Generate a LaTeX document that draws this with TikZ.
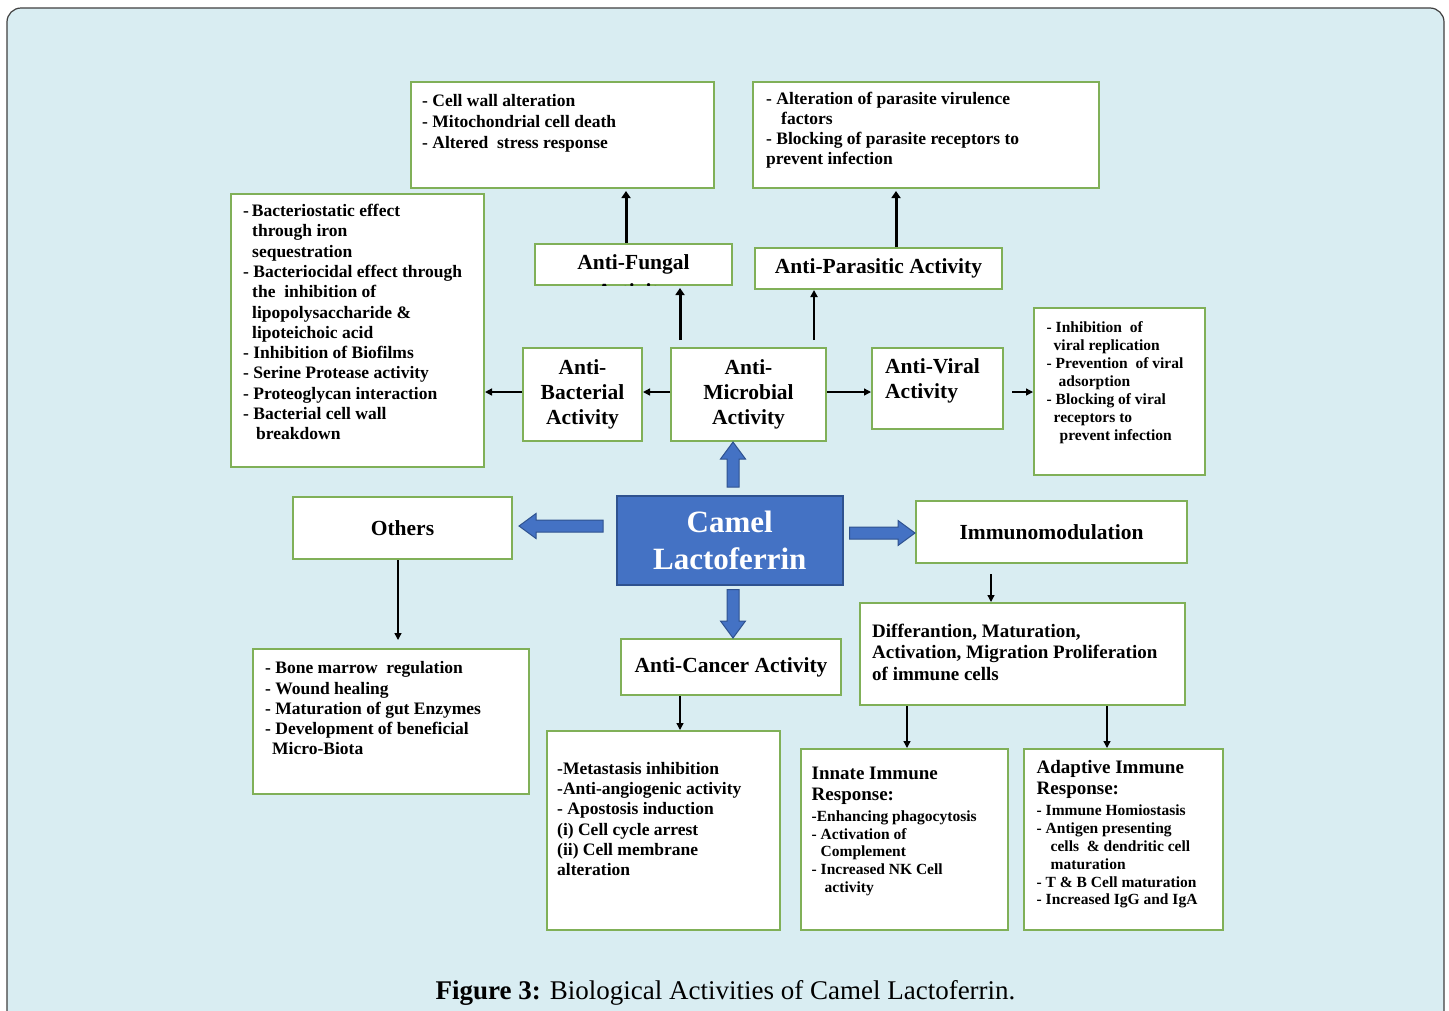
\documentclass[tikz,border=0pt]{standalone}
\usepackage{fontspec}
\setmainfont{Liberation Serif}
\usetikzlibrary{arrows.meta,calc}
\definecolor{bgblue}{RGB}{217,237,242}
\definecolor{bgreen}{RGB}{128,176,88}
\definecolor{lfblue}{RGB}{68,114,196}
\definecolor{lfedge}{RGB}{47,82,143}
\newcommand\fsz[2]{\fontsize{#1}{#2}\selectfont}
\newcommand\ind[1]{\hspace*{#1pt}}
\newcommand\blockarrow[2]{%
  \path ($(#2)!17pt!(#1)$) coordinate (hb);
  \filldraw[blockarr] ($(#1)!6pt!90:(#2)$) -- ($(hb)!6pt!-90:(#1)$) -- ($(hb)!12.5pt!-90:(#1)$) -- (#2)
    -- ($(hb)!12.5pt!90:(#1)$) -- ($(hb)!6pt!90:(#1)$) -- ($(#1)!6pt!-90:(#2)$) -- cycle;}
\tikzset{
  wbox/.style={draw=bgreen, fill=white, line width=2pt, anchor=north west, inner sep=2pt, align=center},
  desctext/.style={anchor=north west, inner sep=0pt, align=left, font=\bfseries\fsz{17.5}{20.3}},
  smalltext/.style={anchor=north west, inner sep=0pt, align=left, font=\bfseries\fsz{15.5}{17.8}},
  ttl/.style={font=\bfseries\fsz{21.5}{25}},
  conn/.style={line width=1.4pt, -{Triangle[length=7pt,width=7pt]}},
  thickconn/.style={line width=3pt, -{Triangle[length=7pt,width=9pt]}},
  blockarr/.style={fill=lfblue, draw=lfedge, line width=1pt, line join=miter},
}
\begin{document}
\begin{tikzpicture}[x=1pt,y=-1pt]
\useasboundingbox (0,0) rectangle (1449,1010);
\fill[white] (0,0) rectangle (1449,1010);
\filldraw[fill=bgblue, draw=black!75, line width=1.2pt, rounded corners=14pt]
  (7,1014) -- (7,8) -- (1444,8) -- (1444,1014);

% boxes
\node[wbox, minimum width=303pt, minimum height=106pt] (fungd) at (410,81) {};
\node[wbox, minimum width=346pt, minimum height=106pt] (parad) at (752,81) {};
\node[wbox, minimum width=253pt, minimum height=273pt] (bactd) at (230,193) {};
\node[wbox, minimum width=197pt, minimum height=41pt, ttl] (afung) at (534,243) {Anti-Fungal};
\node[wbox, minimum width=247pt, minimum height=41pt, ttl] (apara) at (754,247) {Anti-Parasitic Activity};
\node[wbox, minimum width=119pt, minimum height=93pt, ttl] (abact) at (522,347) {Anti-\\Bacterial\\Activity};
\node[wbox, minimum width=155pt, minimum height=93pt, ttl] (amicro) at (670,347) {Anti-\\Microbial\\Activity};
\node[wbox, minimum width=131pt, minimum height=81pt] (aviral) at (871,347) {};
\node[wbox, minimum width=171pt, minimum height=167pt] (virald) at (1033,307) {};
\node[wbox, minimum width=219pt, minimum height=62pt, ttl] (others) at (292,496) {Others};
\node[draw=lfedge, fill=lfblue, line width=1.5pt, anchor=north west, minimum width=226pt, minimum height=89pt,
      align=center, text=white, font=\bfseries\fsz{31}{36.3}] (camel) at (616,495) {Camel\\Lactoferrin};
\node[wbox, minimum width=271pt, minimum height=62pt, ttl] (immuno) at (915,500) {Immunomodulation};
\node[wbox, minimum width=276pt, minimum height=145pt] (othersd) at (252,648) {};
\node[wbox, minimum width=220pt, minimum height=56pt, ttl] (acancer) at (620,638) {Anti-Cancer Activity};
\node[wbox, minimum width=233pt, minimum height=199pt] (cancerd) at (546,730) {};
\node[wbox, minimum width=325pt, minimum height=102pt] (diff) at (859,602) {};
\node[wbox, minimum width=207pt, minimum height=181pt] (innate) at (800,748) {};
\node[wbox, minimum width=199pt, minimum height=181pt] (adapt) at (1023,748) {};

% clipped second line of Anti-Fungal (only the tops of the letters show)
\begin{scope}
  \clip ([shift={(1pt,1pt)}]afung.south west) rectangle ([shift={(-1pt,-1pt)}]afung.north east);
  \node[ttl] (afungx) at (633,293) {Activity};
\end{scope}

% texts
\node[desctext, font=\bfseries\fsz{17.5}{21}] (fungt) at (422,94) {- Cell wall alteration\\- Mitochondrial cell death\\- Altered\ \ stress response};
\node[desctext, font=\bfseries\fsz{17.5}{20}] (parat) at (766,92) {- Alteration of parasite virulence\\\ind{15}factors\\- Blocking of parasite receptors to\\prevent infection};
\node[desctext] (bactt) at (243,204) {-\,Bacteriostatic effect\\\ind{9}through iron\\\ind{9}sequestration\\- Bacteriocidal effect through\\\ind{9}the\ \ inhibition of\\\ind{9}lipopolysaccharide \&\\\ind{9}lipoteichoic acid\\- Inhibition of Biofilms\\- Serine Protease activity\\- Proteoglycan interaction\\- Bacterial cell wall\\\ind{13}breakdown};
\node[anchor=north west, inner sep=0pt, align=left, ttl] (aviralt) at (885,358.7) {Anti-Viral\\Activity};
\node[smalltext, font=\bfseries\fsz{15.5}{18}] (viralt) at (1046.5,321) {- Inhibition\ \ of\\\ind{7}viral replication\\- Prevention\ \ of viral\\\ind{12}adsorption\\- Blocking of viral\\\ind{7}receptors to\\\ind{13}prevent infection};
\node[desctext] (otherst) at (265,661.4) {- Bone marrow\ \ regulation\\- Wound healing\\- Maturation of gut Enzymes\\- Development of beneficial\\\ind{7}Micro-Biota};
\node[desctext, font=\bfseries\fsz{17.5}{20.1}] (cancert) at (557,762.4) {-Metastasis inhibition\\-Anti-angiogenic activity\\- Apostosis induction\\(i) Cell cycle arrest\\(ii) Cell membrane\\alteration};
\node[desctext, font=\bfseries\fsz{19}{21.5}] (difft) at (872,623.8) {Differantion, Maturation,\\Activation, Migration Proliferation\\of immune cells};
\node[desctext, font=\bfseries\fsz{19}{21.7}] (innateh) at (811.5,766.4) {Innate Immune\\Response:};
\node[smalltext, font=\bfseries\fsz{15.5}{17.7}] (innatet) at (811.5,810.5) {-Enhancing phagocytosis\\- Activation of\\\ind{9}Complement\\- Increased NK Cell\\\ind{13}activity};
\node[desctext, font=\bfseries\fsz{19}{21}] (adapth) at (1036.5,760.4) {Adaptive Immune\\Response:};
\node[smalltext, font=\bfseries\fsz{15.5}{17.9}] (adaptt) at (1036.5,804.5) {- Immune Homiostasis\\- Antigen presenting\\\ind{14}cells\ \ \& dendritic cell\\\ind{14}maturation\\- T \& B Cell maturation\\- Increased IgG and IgA};

% caption
\node[anchor=base, inner sep=0pt, font=\fsz{27}{31}] (caption) at (725.5,999) {\textbf{Figure 3:} Biological Activities of Camel Lactoferrin.};

% x / y reference coordinates
\coordinate (x626) at (626,0);
\coordinate (x896) at (896,0);
\coordinate (x680) at (680,0);
\coordinate (x814) at (814,0);
\coordinate (x733) at (733,0);
\coordinate (x398) at (398,0);
\coordinate (x991) at (991,0);
\coordinate (x907) at (907,0);
\coordinate (x1107) at (1107,0);
\coordinate (y392) at (0,392);
\coordinate (y526) at (0,526);
\coordinate (y533) at (0,533);

% connectors
\draw[thickconn, shorten >=2pt] (afung.north -| x626) -- (fungd.south -| x626);
\draw[thickconn, shorten >=2pt] (apara.north -| x896) -- (parad.south -| x896);
\draw[thickconn, shorten <=7pt, shorten >=2pt] (amicro.north -| x680) -- (afung.south -| x680);
\draw[conn, line width=2pt, shorten <=7pt] (amicro.north -| x814) -- (apara.south -| x814);
\draw[conn] (amicro.west |- y392) -- (abact.east |- y392);
\draw[conn] (abact.west |- y392) -- (bactd.east |- y392);
\draw[conn] (amicro.east |- y392) -- (aviral.west |- y392);
\draw[conn, shorten <=8pt] (aviral.east |- y392) -- (virald.west |- y392);
\draw[conn, shorten >=8pt] (others.south -| x398) -- (othersd.north -| x398);
\draw[conn] (acancer.south -| x680) -- (cancerd.north -| x680);
\draw[conn, shorten <=10pt] (immuno.south -| x991) -- (diff.north -| x991);
\draw[conn] (diff.south -| x907) -- (innate.north -| x907);
\draw[conn] (diff.south -| x1107) -- (adapt.north -| x1107);

% block arrows from Camel Lactoferrin
\coordinate (bu0) at ([yshift=8pt]camel.north -| x733);
\coordinate (bu1) at (amicro.south -| x733);
\blockarrow{bu0}{bu1}
\coordinate (bl0) at ([xshift=-13pt]camel.west |- y526);
\coordinate (bl1) at ([xshift=6pt]others.east |- y526);
\blockarrow{bl0}{bl1}
\coordinate (br0) at ([xshift=6pt]camel.east |- y533);
\coordinate (br1) at (immuno.west |- y533);
\blockarrow{br0}{br1}
\coordinate (bd0) at ([yshift=-4pt]camel.south -| x733);
\coordinate (bd1) at (acancer.north -| x733);
\blockarrow{bd0}{bd1}
\end{tikzpicture}
\end{document}
